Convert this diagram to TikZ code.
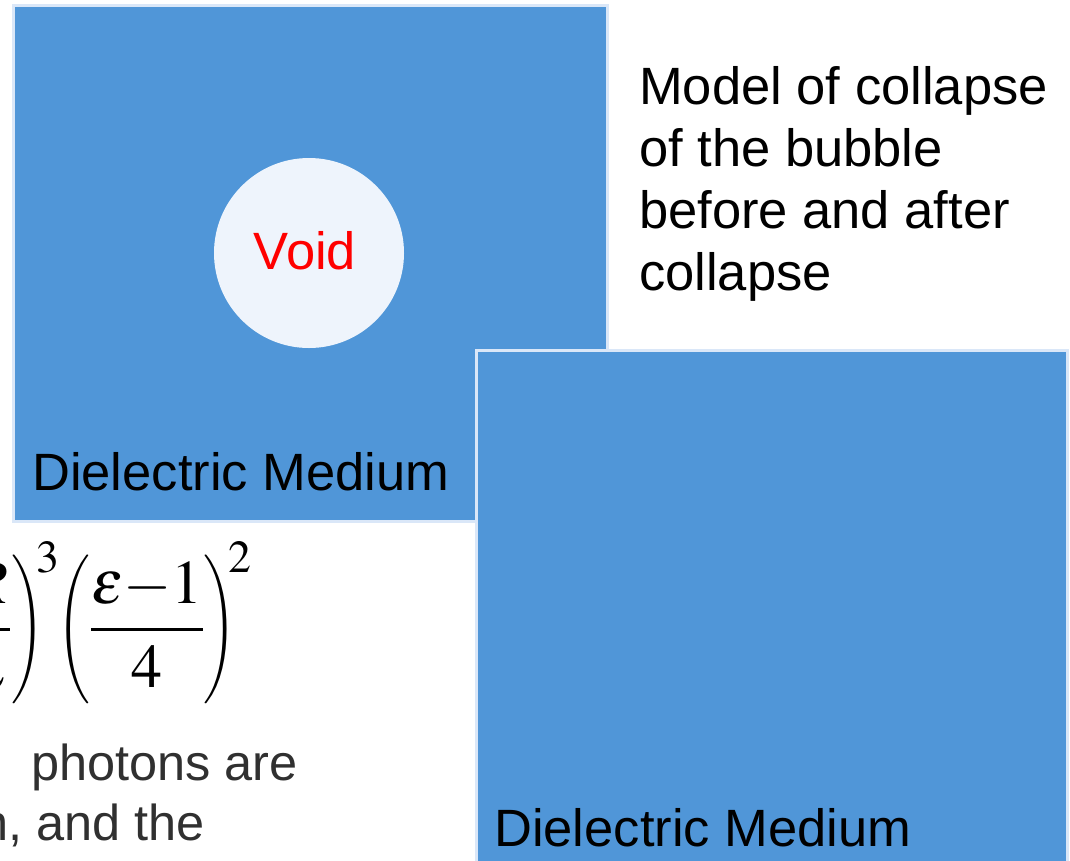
\documentclass[tikz,border=0pt]{standalone}
\usepackage{mathptmx}
\usepackage{fontspec}
\setmainfont{Liberation Sans}
\definecolor{boxblue}{HTML}{5096D8}
\definecolor{boxedge}{HTML}{DAE7F8}
\definecolor{voidfill}{HTML}{EEF4FC}
\definecolor{voidred}{HTML}{FF0000}
\definecolor{bodygray}{HTML}{303030}
\newcommand{\narrowopen}{\mathopen{\scalebox{0.72}[1]{$\biggl($}}}
\newcommand{\narrowclose}{\mathclose{\scalebox{0.72}[1]{$\biggr)$}}}
\begin{document}
\begin{tikzpicture}[x=1pt,y=-1pt,
  medium/.style={rectangle, fill=boxblue, draw=boxedge, line width=3pt, inner sep=0pt, anchor=north west},
  lbl/.style={font=\fontsize{52.5}{62}\selectfont, inner sep=0pt, anchor=base west},
  bodytxt/.style={font=\fontsize{50.5}{62}\selectfont, inner sep=0pt, anchor=base west, text=bodygray},
  mathlbl/.style={font=\fontsize{62}{74}\selectfont, inner sep=0pt}]
\useasboundingbox (0,0) rectangle (1070,860);
\clip (0,0) rectangle (1070,860);
% before collapse
\node[medium, minimum width=594pt, minimum height=516pt] (box1) at (12,4) {};
\node[circle, fill=voidfill, minimum size=190pt, inner sep=0pt] (void) at (309,253) {};
\node[lbl, anchor=base, text=voidred] (voidtext) at (305,269) {Void};
\node[lbl] (med1) at (32,490) {Dielectric Medium};
% formula (clipped at left)
\node[mathlbl, anchor=base east] (fracA) at (60,645) {$\displaystyle\narrowopen\frac{R}{\lambda}\narrowclose^{\kern-8pt 3}$};
\node[mathlbl, anchor=base west] (fracB) at (57,645) {$\displaystyle\narrowopen\frac{\varepsilon{-}1}{4}\narrowclose^{\kern-8pt 2}$};
% body text (clipped at left)
\node[bodytxt] (body1) at (31,780) {photons are};
\node[bodytxt] (body2) at (-20,840) {n, and the};
% title
\node[lbl, anchor=north west, align=left] (title) at (639,66) {Model of collapse\\of the bubble\\before and after\\collapse};
% after collapse
\node[medium, minimum width=591pt, minimum height=560pt] (box2) at (475,349) {};
\node[lbl] (med2) at (494,846) {Dielectric Medium};
\end{tikzpicture}
\end{document}
